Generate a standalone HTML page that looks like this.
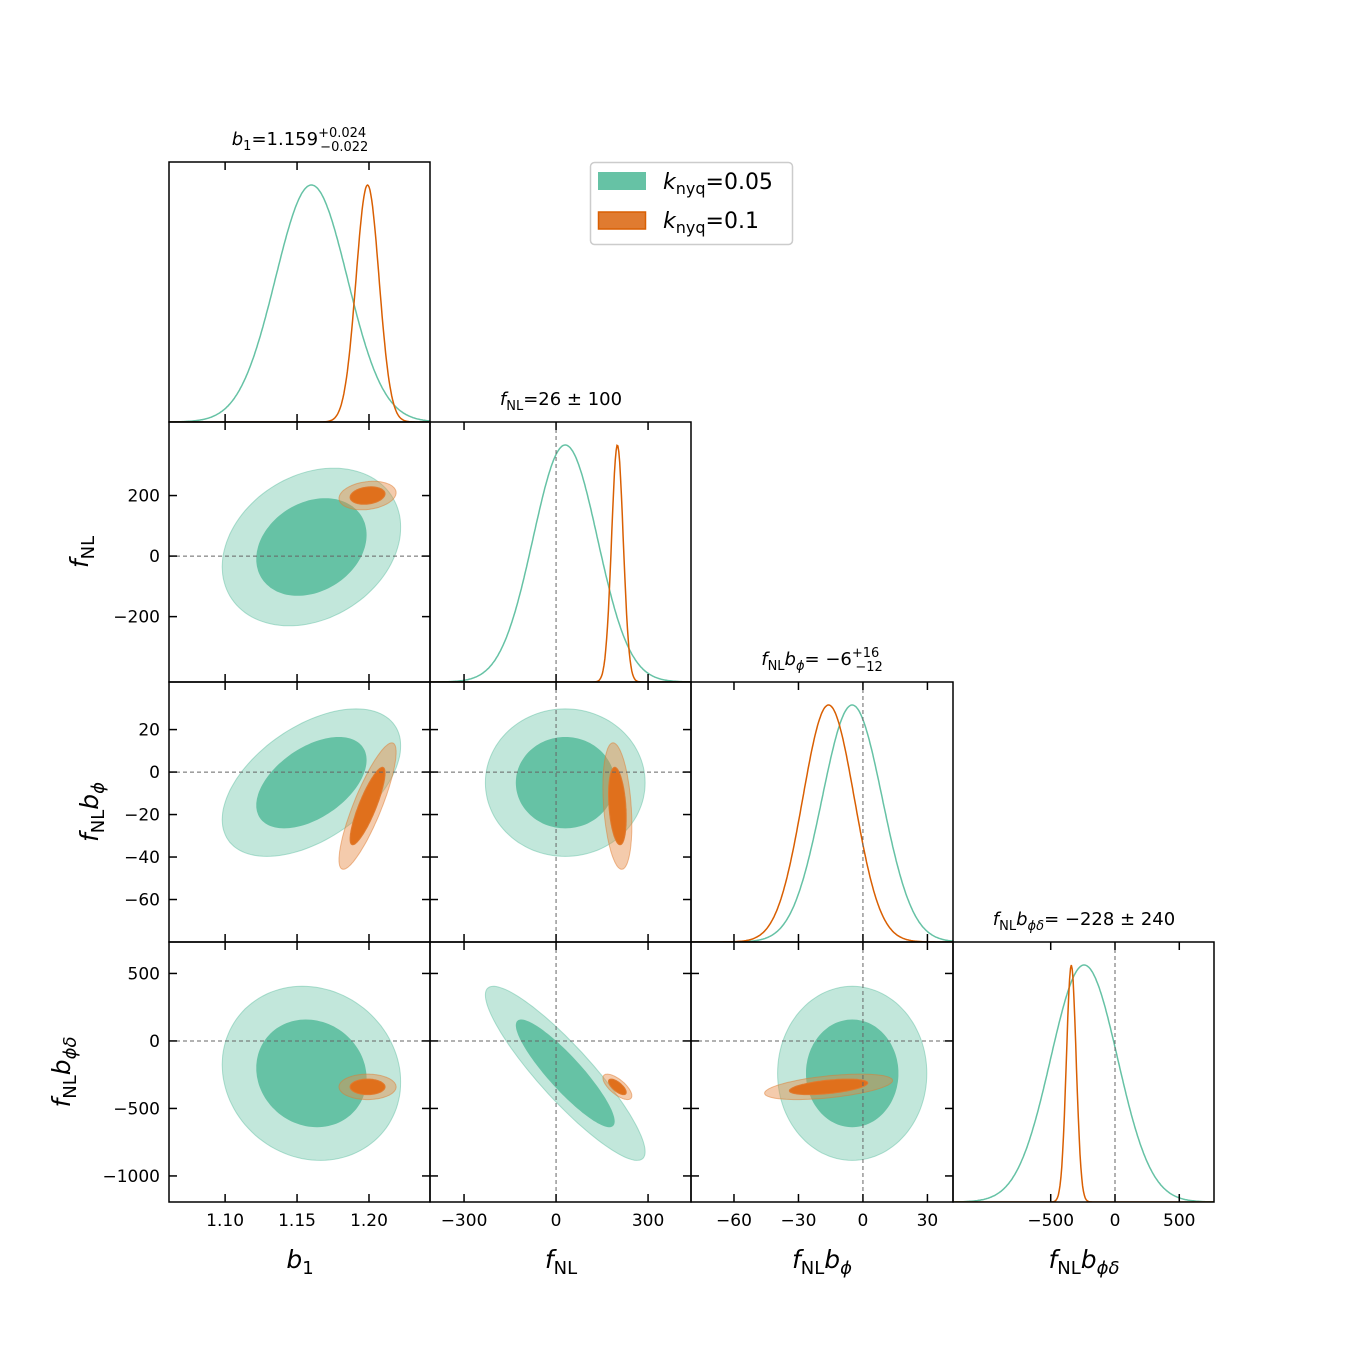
<!DOCTYPE html>
<html><head><meta charset="utf-8"><style>
body{margin:0;background:#fff;}
svg{display:block;font-family:"DejaVu Sans","Liberation Sans",sans-serif;}
</style></head><body>
<svg id="c" width="1350" height="1350" xmlns="http://www.w3.org/2000/svg"></svg>
<script>
const params=["b1","fNL","fNLbphi","fNLbphid"];
const greenMean=[1.160,30,-5,-240];
const greenSigma=[0.025,105,14,260];
const orangeMean=[1.199,200,-16,-340];
const orangeSigma=[0.008,19,12,38];
// correlations: b1-fNL, b1-phi, b1-phid, fNL-phi, fNL-phid, phi-phid
const greenRho=[0.25,0.5,-0.1,0.0,-0.9,0.0];
const orangeRho=[0.2,0.85,0.0,-0.3,-0.7,0.5];
const truth=[null,0,0,0];
const xTicks=[[1.10,1.15,1.20],[-300,0,300],[-60,-30,0,30],[-500,0,500]];
const xTickLabels=[["1.10","1.15","1.20"],["\u2212300","0","300"],["\u221260","\u221230","0","30"],["\u2212500","0","500"]];
const yTicks=[null,[200,0,-200],[20,0,-20,-40,-60],[500,0,-500,-1000]];
const yTickLabels=[null,["200","0","\u2212200"],["20","0","\u221220","\u221240","\u221260"],["500","0","\u2212500","\u22121000"]];

const NS="http://www.w3.org/2000/svg";
const svg=document.getElementById('c');
const colE=[169,430,691,953,1214], rowE=[162,422,682,942,1202];
const xDom=[[1.061,1.2424],[-411,440],[-80,41.9],[-1260,770]];
const yDom=[null,[-416,443],[-80,42.4],[-1193,733]];
function X(d,v){return colE[d]+(v-xDom[d][0])/(xDom[d][1]-xDom[d][0])*(colE[d+1]-colE[d]);}
function Y(d,v){return rowE[d+1]-(v-yDom[d][0])/(yDom[d][1]-yDom[d][0])*(rowE[d+1]-rowE[d]);}
function el(t,a,p){const e=document.createElementNS(NS,t);for(const k in a)e.setAttribute(k,a[k]);(p||svg).appendChild(e);return e;}
const G='#66c2a5',O='#d95f02';
function rhoIdx(i,j){const m={"0-1":0,"0-2":1,"0-3":2,"1-2":3,"1-3":4,"2-3":5};return m[i+"-"+j];}

let defs=el('defs',{});
for(let r=0;r<4;r++)for(let c=0;c<=r;c++){
  const cp=el('clipPath',{id:'cp'+r+c},defs);
  el('rect',{x:colE[c],y:rowE[r],width:colE[c+1]-colE[c],height:rowE[r+1]-rowE[r]},cp);
}
function ellipse(i,j,mean,sig,rho,k){
  let d='';const s=Math.sqrt(1-rho*rho);
  for(let n=0;n<=120;n++){const t=n/120*2*Math.PI,u=Math.cos(t),v=Math.sin(t);
    const x=mean[i]+k*sig[i]*u, y=mean[j]+k*sig[j]*(rho*u+s*v);
    d+=(n?'L':'M')+X(i,x).toFixed(1)+','+Y(j,y).toFixed(1);}
  return d+'Z';
}
for(let r=0;r<4;r++)for(let c=0;c<=r;c++){
  const g=el('g',{'clip-path':'url(#cp'+r+c+')'});
  
  
  const x0=colE[c],x1=colE[c+1],y0=rowE[r],y1=rowE[r+1];
  if(r===c){
    [[greenMean,greenSigma,G,'green'],[orangeMean,orangeSigma,O,'orange']].forEach(([m,s,col,nm])=>{
      let d='';for(let n=0;n<=300;n++){const px=x0+n/300*(x1-x0);
        const v=xDom[c][0]+n/300*(xDom[c][1]-xDom[c][0]);
        const p=Math.exp(-0.5*Math.pow((v-m[c])/s[c],2));
        d+=(n?'L':'M')+px.toFixed(1)+','+(y1-p*(y1-y0-23)).toFixed(1);}
      const p=el('path',{d:d,fill:'none',stroke:col,'stroke-width':1.5},g);
      
      
    });
    if(truth[c]!==null){const l=el('line',{x1:X(c,truth[c]),x2:X(c,truth[c]),y1:y0,y2:y1,stroke:'#666','stroke-dasharray':'4,3','stroke-width':1},g);
      }
  } else {
    const k=rhoIdx(c,r);
    [[greenMean,greenSigma,greenRho,'rgba(102,194,165,0.4)',G,G,'green'],[orangeMean,orangeSigma,orangeRho,'rgba(230,140,70,0.45)','#e07b30','#e0701c','orange']].forEach(([m,s,rh,light,col,inner,nm])=>{
      const o=el('path',{d:ellipse(c,r,m,s,rh[k],2.48),fill:light,stroke:col,'stroke-opacity':0.5,'stroke-width':1},g);
      
      const i=el('path',{d:ellipse(c,r,m,s,rh[k],1.52),fill:inner,stroke:col,'stroke-width':1},g);
      
    });
    if(truth[c]!==null){const l=el('line',{x1:X(c,truth[c]),x2:X(c,truth[c]),y1:y0,y2:y1,stroke:'#666','stroke-dasharray':'4,3','stroke-width':1},g);
      }
    const l2=el('line',{x1:x0,x2:x1,y1:Y(r,truth[r]),y2:Y(r,truth[r]),stroke:'#666','stroke-dasharray':'4,3','stroke-width':1},g);
    
    yTicks[r].forEach(v=>{const y=Y(r,v);
      el('line',{x1:x0,x2:x0+8,y1:y,y2:y,stroke:'#000','stroke-width':1.5});
      el('line',{x1:x1-8,x2:x1,y1:y,y2:y,stroke:'#000','stroke-width':1.5});});
  }
  xTicks[c].forEach(v=>{const x=X(c,v);
    el('line',{x1:x,x2:x,y1:y1-8,y2:y1,stroke:'#000','stroke-width':1.5});
    el('line',{x1:x,x2:x,y1:y0,y2:y0+8,stroke:'#000','stroke-width':1.5});});
  const b=el('rect',{x:x0,y:y0,width:x1-x0,height:y1-y0,fill:'none',stroke:'#000','stroke-width':1.5});
  
}
for(let c=0;c<4;c++)xTicks[c].forEach((v,n)=>{const t=el('text',{x:X(c,v),y:1226,'font-size':17,'text-anchor':'middle'});t.textContent=xTickLabels[c][n];
  });
for(let r=1;r<4;r++)yTicks[r].forEach((v,n)=>{const t=el('text',{x:160,y:Y(r,v)+6,'font-size':17,'text-anchor':'end'});t.textContent=yTickLabels[r][n];
  });
</script>
<svg width="1350" height="1350" style="position:absolute;left:0;top:0" xmlns="http://www.w3.org/2000/svg" font-family="DejaVu Sans, Liberation Sans, sans-serif">
 <g font-size="18" text-anchor="middle">
  <text x="300" y="145"><tspan font-style="italic">b</tspan><tspan font-size="13" dy="5">1</tspan><tspan dy="-5">=1.159</tspan><tspan font-size="13" dy="-8">+0.024</tspan><tspan font-size="13" dx="-46" dy="14">−0.022</tspan></text>
  <text x="561" y="405"><tspan font-style="italic">f</tspan><tspan font-size="13" dy="5">NL</tspan><tspan dy="-5">=26 ± 100</tspan></text>
  <text x="822" y="665"><tspan font-style="italic">f</tspan><tspan font-size="13" dy="5">NL</tspan><tspan dy="-5" font-style="italic">b</tspan><tspan font-size="13" dy="5" font-style="italic">ϕ</tspan><tspan dy="-5">= −6</tspan><tspan font-size="13" dy="-8">+16</tspan><tspan font-size="13" dx="-24" dy="14">−12</tspan></text>
  <text x="1084" y="925"><tspan font-style="italic">f</tspan><tspan font-size="13" dy="5">NL</tspan><tspan dy="-5" font-style="italic">b</tspan><tspan font-size="13" dy="5" font-style="italic">ϕδ</tspan><tspan dy="-5">= −228 ± 240</tspan></text>
 </g>
 <g font-size="25" text-anchor="middle">
  <text x="300" y="1268"><tspan font-style="italic">b</tspan><tspan font-size="18" dy="6">1</tspan></text>
  <text x="561" y="1268"><tspan font-style="italic">f</tspan><tspan font-size="18" dy="6">NL</tspan></text>
  <text x="822" y="1268"><tspan font-style="italic">f</tspan><tspan font-size="18" dy="6">NL</tspan><tspan dy="-6" font-style="italic">b</tspan><tspan font-size="18" dy="6" font-style="italic">ϕ</tspan></text>
  <text x="1084" y="1268"><tspan font-style="italic">f</tspan><tspan font-size="18" dy="6">NL</tspan><tspan dy="-6" font-style="italic">b</tspan><tspan font-size="18" dy="6" font-style="italic">ϕδ</tspan></text>
  <text transform="translate(88,552) rotate(-90)"><tspan font-style="italic">f</tspan><tspan font-size="18" dy="6">NL</tspan></text>
  <text transform="translate(98,812) rotate(-90)"><tspan font-style="italic">f</tspan><tspan font-size="18" dy="6">NL</tspan><tspan dy="-6" font-style="italic">b</tspan><tspan font-size="18" dy="6" font-style="italic">ϕ</tspan></text>
  <text transform="translate(70,1072) rotate(-90)"><tspan font-style="italic">f</tspan><tspan font-size="18" dy="6">NL</tspan><tspan dy="-6" font-style="italic">b</tspan><tspan font-size="18" dy="6" font-style="italic">ϕδ</tspan></text>
 </g>
 <g>
  <rect x="590.5" y="162.5" width="202" height="82" rx="4" fill="#fff" stroke="#ccc" stroke-width="1.5"/>
  <rect x="598" y="172" width="48" height="18" fill="#66c2a5"/>
  <rect x="598.5" y="212" width="47" height="17" fill="#e07b30" stroke="#d95f02" stroke-width="1.5"/>
  <text x="663" y="189" font-size="22"><tspan font-style="italic">k</tspan><tspan font-size="16" dy="5">nyq</tspan><tspan dy="-5">=0.05</tspan></text>
  <text x="663" y="228" font-size="22"><tspan font-style="italic">k</tspan><tspan font-size="16" dy="5">nyq</tspan><tspan dy="-5">=0.1</tspan></text>
 </g>
</svg>
</body></html>
